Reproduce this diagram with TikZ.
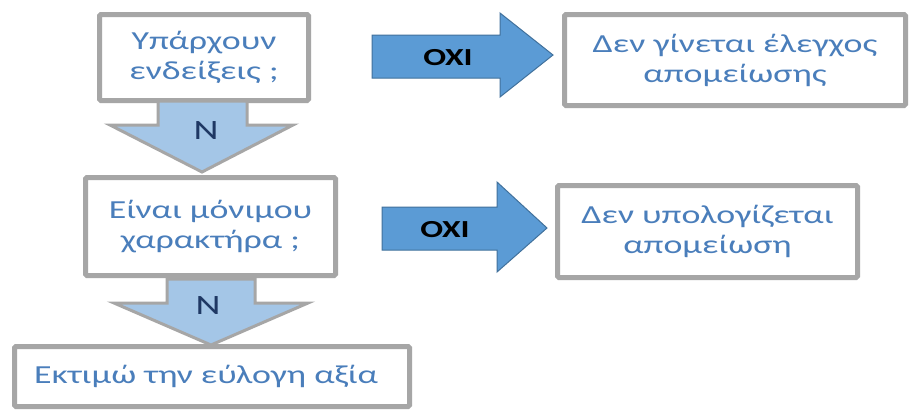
\documentclass[tikz,border=0pt]{standalone}
\usepackage{fontspec}
\setmainfont{Carlito}[FakeStretch=1.38]
\definecolor{boxgray}{HTML}{A6A6A6}
\definecolor{txtblue}{HTML}{4A7EBB}
\definecolor{oxifill}{HTML}{5B9BD5}
\definecolor{oxiedge}{HTML}{41719C}
\definecolor{downfill}{HTML}{A4C6E7}
\definecolor{navy}{HTML}{1F3864}
\tikzset{
  box/.style={draw=boxgray, line width=5pt, fill=white, rounded corners=1.5pt,
    text=txtblue, align=center, font=\fontsize{26}{30}\selectfont, inner sep=0pt},
  oxiarrow/.style={fill=oxifill, draw=oxiedge, line width=1pt},
  downarrow/.style={fill=downfill, draw=boxgray, line width=3pt, line join=miter},
  oxilabel/.style={font=\bfseries\fontsize{24.5}{26}\selectfont, text=black, inner sep=0pt},
  nlabel/.style={font=\fontsize{28}{30}\selectfont, text=navy, inner sep=0pt}
}
\begin{document}
\begin{tikzpicture}[x=1pt,y=-1pt]
\useasboundingbox[fill=white] (0,0) rectangle (910,410);
% boxes
\node[box, minimum width=209pt, minimum height=86pt] (b1) at (204,57.5) {Υπάρχουν\\ενδείξεις ;};
\node[box, minimum width=250pt, minimum height=98pt] (b2) at (210.5,226.5) {Είναι μόνιμου\\χαρακτήρα ;};
\node[box, minimum width=395pt, minimum height=60pt] (b3) at (212,376.5) {};
\node[text=txtblue, font=\fontsize{26}{30}\selectfont, inner sep=0pt, anchor=base] (t3) at (206,383) {Εκτιμώ την εύλογη αξία};
\node[box, minimum width=341pt, minimum height=91pt] (b4) at (735,60) {Δεν γίνεται έλεγχος\\απομείωσης};
\node[box, minimum width=300pt, minimum height=92pt] (b5) at (707.5,231.5) {Δεν υπολογίζεται\\απομείωση};
% down arrows
\draw[downarrow] (158,101) -- (247,101) -- (247,125) -- (293,125) -- (202,172) -- (110,125) -- (158,125) -- cycle;
\draw[downarrow] (167,279) -- (255,279) -- (255,303) -- (308,303) -- (211,345) -- (114,303) -- (167,303) -- cycle;
\node[nlabel] (n1) at (206,131) {N};
\node[nlabel] (n2) at (208,306) {N};
% OXI arrows
\draw[oxiarrow] (372,35) -- (500,35) -- (500,13) -- (553,55) -- (500,97) -- (500,78) -- (372,78) -- cycle;
\draw[oxiarrow] (382,207) -- (497,207) -- (497,182) -- (547,228) -- (497,272) -- (497,250) -- (382,250) -- cycle;
\node[oxilabel] (o1) at (448,58) {OXI};
\node[oxilabel] (o2) at (445,230) {OXI};
\end{tikzpicture}
\end{document}
